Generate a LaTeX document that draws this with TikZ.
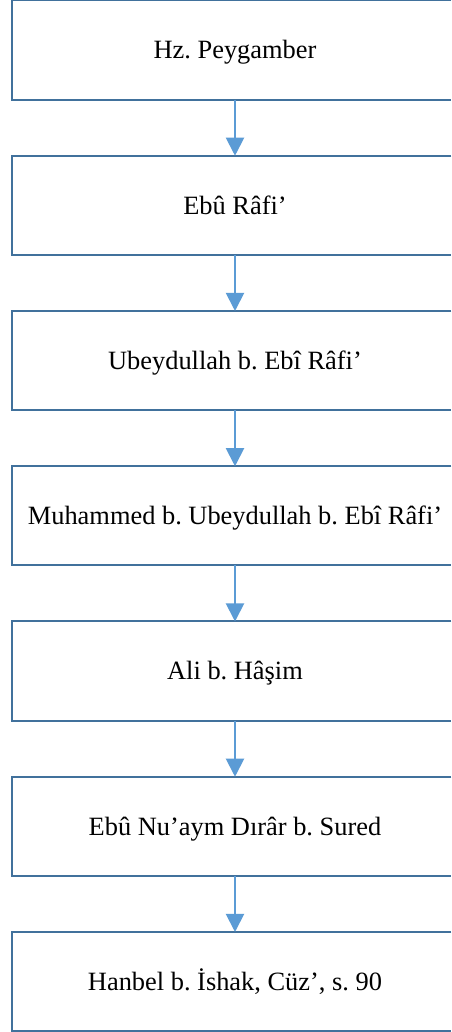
\documentclass[tikz,border=0pt]{standalone}
\usepackage{fontspec}
\setmainfont{Liberation Serif}
\usepackage{tikz}
\usetikzlibrary{arrows.meta}
\frenchspacing

\definecolor{boxline}{HTML}{41719C}
\definecolor{arrowline}{HTML}{5B9BD5}

\tikzset{
  ravi/.style={minimum width=329.25pt, minimum height=73.9pt, inner sep=0pt, font=\fontsize{19.8}{24}\selectfont, execute at begin node={\hspace*{5.25pt}\rule[-4.1pt]{0pt}{21.7pt}}},
  frame/.style={draw=boxline, line width=1.5pt},
  isnad/.style={draw=arrowline, line width=1.5pt, -{Triangle[length=13.5pt,width=13.5pt]}}
}

\begin{document}
\begin{tikzpicture}[x=0.75pt,y=0.75pt,yscale=-1,xscale=1]
\useasboundingbox (0,0) rectangle (451,1032);
\fill[white] (0,0) rectangle (451,1032);
\coordinate (mitte) at (235,0);

% Text Node
\node[ravi] (peygamber) at (231.5,50) {Hz. Peygamber};
% Text Node
\node[ravi] (eburafi) at (231.5,205.25) {Ebû Râfi’};
% Text Node
\node[ravi] (ubeydullah) at (231.5,360.5) {Ubeydullah b. Ebî Râfi’};
% Text Node
\node[ravi] (muhammed) at (231.5,515.75) {Muhammed b. Ubeydullah b. Ebî Râfi’};
% Text Node
\node[ravi] (ali) at (231.5,671) {Ali b. Hâşim};
% Text Node
\node[ravi] (dirar) at (231.5,826.25) {Ebû Nu’aym Dırâr b. Sured};
% Text Node
\node[ravi] (hanbel) at (231.5,981.5) {Hanbel b. İshak, Cüz’, s. 90};

% Frame (open on the right, cut by the page)
\draw[frame] (peygamber.north east) -- (peygamber.north west) -- (peygamber.south west) -- (peygamber.south east);
\draw[frame] (eburafi.north east) -- (eburafi.north west) -- (eburafi.south west) -- (eburafi.south east);
\draw[frame] (ubeydullah.north east) -- (ubeydullah.north west) -- (ubeydullah.south west) -- (ubeydullah.south east);
\draw[frame] (muhammed.north east) -- (muhammed.north west) -- (muhammed.south west) -- (muhammed.south east);
\draw[frame] (ali.north east) -- (ali.north west) -- (ali.south west) -- (ali.south east);
\draw[frame] (dirar.north east) -- (dirar.north west) -- (dirar.south west) -- (dirar.south east);
\draw[frame] (hanbel.north east) -- (hanbel.north west) -- (hanbel.south west) -- (hanbel.south east);

% Connection
\draw[isnad] (peygamber.south -| mitte) -- (eburafi.north -| mitte);
% Connection
\draw[isnad] (eburafi.south -| mitte) -- (ubeydullah.north -| mitte);
% Connection
\draw[isnad] (ubeydullah.south -| mitte) -- (muhammed.north -| mitte);
% Connection
\draw[isnad] (muhammed.south -| mitte) -- (ali.north -| mitte);
% Connection
\draw[isnad] (ali.south -| mitte) -- (dirar.north -| mitte);
% Connection
\draw[isnad] (dirar.south -| mitte) -- (hanbel.north -| mitte);

\end{tikzpicture}
\end{document}
